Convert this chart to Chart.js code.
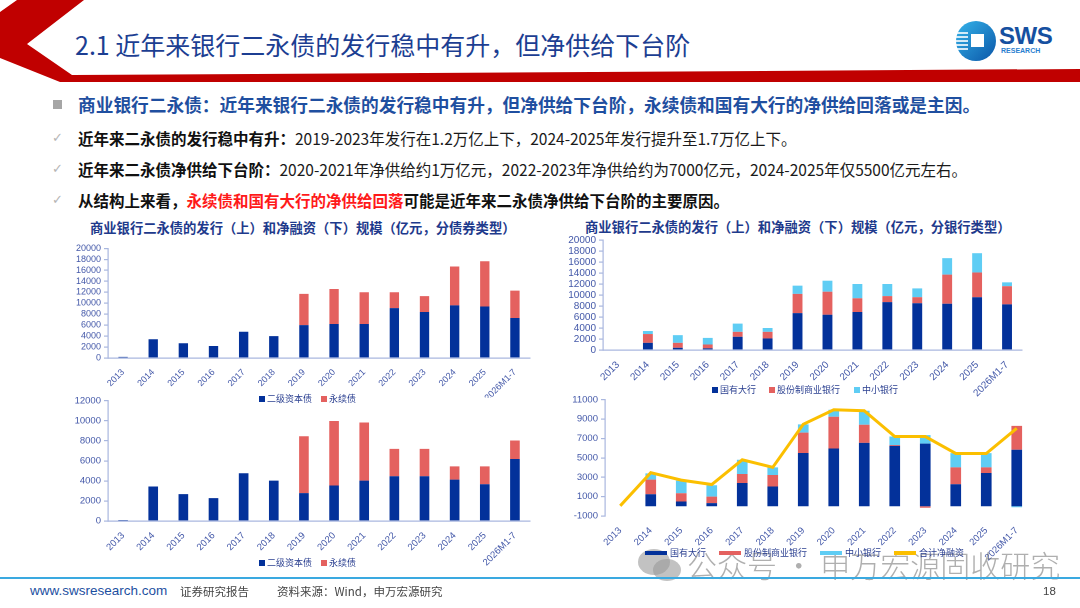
<!DOCTYPE html>
<html><head><meta charset="utf-8">
<script src="https://cdn.jsdelivr.net/npm/chart.js@4.4.0/dist/chart.umd.min.js"></script>
<style>
html,body{margin:0;padding:0;}
body{width:1080px;height:608px;overflow:hidden;position:relative;background:#fff;font-family:"Noto Sans CJK SC","Noto Sans",sans-serif;}
.abs{position:absolute;white-space:nowrap;}
canvas{position:absolute;}
.title{left:75px;top:29px;font-size:25px;line-height:30px;color:#1c3e92;font-weight:400;}
.l1{left:78px;top:92px;font-size:17.7px;line-height:24px;color:#1f4fa0;font-weight:700;}
.ln{left:78px;font-size:15.5px;line-height:22px;color:#1a1a1a;}
.ln b{font-weight:700;color:#111;}
.ln .red{color:#ff1a1a;font-weight:700;}
.chk{left:52px;font-size:13px;color:#b5b5b5;font-family:"DejaVu Sans",sans-serif;}
.ctitle{font-size:13.3px;font-weight:700;color:#1e3a8c;line-height:18px;}
.lg{font-size:9px;color:#2a3f90;line-height:12px;display:flex;align-items:center;}
.sw{display:inline-block;width:6px;height:6px;margin-right:2px;}
.lm{display:inline-block;width:22px;height:4px;margin-right:3px;}
.foot{font-size:11.5px;color:#444;line-height:16px;}
</style></head><body>

<svg class="abs" style="left:0;top:0" width="1080" height="90">
  <polygon points="17,0 84,0 27,44 72,75 1080,69 1080,82 60,82 0,58 0,12" fill="#c00000"/>
</svg>
<div class="abs title">2.1 近年来银行二永债的发行稳中有升，但净供给下台阶</div>

<svg class="abs" style="left:950px;top:18px" width="52" height="48" viewBox="950 18 52 48">
  <defs><linearGradient id="g" x1="0" y1="0" x2="1" y2="1"><stop offset="0" stop-color="#35b4ea"/><stop offset="1" stop-color="#0b56a8"/></linearGradient></defs>
  <circle cx="976" cy="41" r="20" fill="url(#g)"/>
  <rect x="971" y="34" width="13" height="13" fill="#fff"/>
  <g stroke="#fff" stroke-width="1.6">
    <line x1="956" y1="33" x2="968" y2="33"/><line x1="956" y1="37" x2="968" y2="37"/>
    <line x1="956" y1="41" x2="968" y2="41"/><line x1="956" y1="45" x2="968" y2="45"/>
    <line x1="957" y1="49" x2="968" y2="49"/>
  </g>
</svg>
<div class="abs" style="left:999px;top:22px;font-family:'Liberation Sans',Arial,sans-serif;font-weight:700;font-size:24px;line-height:28px;color:#1650a0;letter-spacing:-0.5px;">SWS</div>
<div class="abs" style="left:1001px;top:47px;font-family:'Liberation Sans',Arial,sans-serif;font-weight:700;font-size:7px;line-height:8px;color:#2b7fd0;">RESEARCH</div>

<div class="abs" style="left:53px;top:100px;width:9px;height:9px;background:#a6a6a6;"></div>
<div class="abs l1">商业银行二永债：近年来银行二永债的发行稳中有升，但净供给下台阶，永续债和国有大行的净供给回落或是主因。</div>
<div class="abs chk" style="top:130px">✓</div>
<div class="abs ln" style="top:127px"><b>近年来二永债的发行稳中有升：</b>2019-2023年发行在1.2万亿上下，2024-2025年发行提升至1.7万亿上下。</div>
<div class="abs chk" style="top:161px">✓</div>
<div class="abs ln" style="top:158px"><b>近年来二永债净供给下台阶：</b>2020-2021年净供给约1万亿元，2022-2023年净供给约为7000亿元，2024-2025年仅5500亿元左右。</div>
<div class="abs chk" style="top:192px">✓</div>
<div class="abs ln" style="top:189px"><b>从结构上来看，</b><span class="red">永续债和国有大行的净供给回落</span><b>可能是近年来二永债净供给下台阶的主要原因。</b></div>

<div class="abs ctitle" style="left:90px;top:219px;">商业银行二永债的发行（上）和净融资（下）规模（亿元，分债券类型）</div>
<div class="abs ctitle" style="left:585px;top:218px;">商业银行二永债的发行（上）和净融资（下）规模（亿元，分银行类型）</div>

<canvas id="c1" width="478" height="158" style="left:60px;top:240px"></canvas>
<canvas id="c2" width="478" height="178" style="left:60px;top:392px"></canvas>
<canvas id="c3" width="475" height="167" style="left:555px;top:231px"></canvas>
<canvas id="c4" width="483" height="179" style="left:557px;top:391px"></canvas>

<div class="abs lg" style="left:259px;top:393px;"><span class="sw" style="background:#03319a"></span>二级资本债<span style="width:9px;display:inline-block"></span><span class="sw" style="background:#e4615f"></span>永续债</div>
<div class="abs lg" style="left:259px;top:557px;"><span class="sw" style="background:#03319a"></span>二级资本债<span style="width:9px;display:inline-block"></span><span class="sw" style="background:#e4615f"></span>永续债</div>
<div class="abs lg" style="left:712px;top:384px;"><span class="sw" style="background:#03319a"></span>国有大行<span style="width:13px;display:inline-block"></span><span class="sw" style="background:#e4615f"></span>股份制商业银行<span style="width:14px;display:inline-block"></span><span class="sw" style="background:#5fcdf4"></span>中小银行</div>

<svg class="abs" style="left:636px;top:545px" width="50" height="40">
  <ellipse cx="18" cy="17" rx="16" ry="13" fill="#9a9a9a" opacity="0.6"/>
  <ellipse cx="31" cy="25" rx="14" ry="11" fill="#9a9a9a" opacity="0.6"/>
</svg>
<div class="abs" style="left:687px;top:544px;font-size:30px;line-height:40px;color:rgba(110,110,110,0.55);font-weight:300;">公众号 · 申万宏源固收研究</div>
<div class="abs lg" style="left:645px;top:547px;"><span class="lm" style="background:#03319a"></span>国有大行<span style="width:13px;display:inline-block"></span><span class="lm" style="background:#e4615f"></span>股份制商业银行<span style="width:13px;display:inline-block"></span><span class="lm" style="background:#5fcdf4"></span>中小银行<span style="width:13px;display:inline-block"></span><span class="lm" style="background:#fbbf00"></span>合计净融资</div>

<div class="abs" style="left:0;top:577px;width:1080px;height:2px;background:#3aa9e0;"></div>
<div class="abs" style="left:30px;top:583px;font-family:'Liberation Sans',Arial,sans-serif;font-size:13.5px;line-height:16px;color:#1d4f9f;">www.swsresearch.com</div>
<div class="abs foot" style="left:180px;top:583px;">证券研究报告</div>
<div class="abs foot" style="left:277px;top:583px;">资料来源：Wind，申万宏源研究</div>
<div class="abs foot" style="left:1043px;top:583px;font-family:'Liberation Sans',Arial,sans-serif;">18</div>

<script>
// ---- data ----
const years = ['2013','2014','2015','2016','2017','2018','2019','2020','2021','2022','2023','2024','2025','2026M1-7'];
// issuance by bond type (亿元)
const issueTier2 = [200,3430,2700,2200,4800,4000,6000,6200,6200,9100,8400,9600,9400,7300];
const issuePerp  = [0,0,0,0,0,0,5700,6400,5800,2900,2900,7100,8250,5000];
// net financing by bond type
const netTier2 = [100,3440,2680,2280,4760,4030,2780,3540,4030,4460,4460,4130,3670,6180];
const netPerp  = [0,0,0,0,0,0,5680,6440,5790,2740,2740,1320,1780,1850];
// issuance by bank type
const issueBig   = [0,1300,400,300,2400,2100,6700,6400,6900,8700,8500,8400,9600,8300];
const issueJoint = [0,1600,900,700,900,1200,3500,4200,2500,1100,1100,5300,4500,3300];
const issueSmall = [0,550,1400,1200,1500,700,1500,2000,2600,2200,1600,3000,3500,700];
// net financing by bank type
const netBig   = [0,1250,500,330,2400,2040,5500,5960,6540,6230,6470,2280,3440,5830];
const netJoint = [0,1500,850,670,930,1190,2100,3280,1880,100,-150,1740,580,2470];
const netSmall = [0,650,1300,1170,1470,790,860,720,1440,870,880,1470,1470,-100];
const netTotal = [50,3470,2700,2250,4800,4020,8460,9960,9860,7200,7200,5450,5450,8050];
// axis ranges
const issueAxis = {min:0, max:20000, step:2000};
const netTypeAxis = {min:0, max:12000, step:2000};
const netBankAxis = {min:-1000, max:11000, step:2000};

const AXIS = '#a9b7df', TICK = '#4257a8';
const BLUE = '#03319a', RED = '#e4615f', CYAN = '#5fcdf4', YEL = '#fbbf00';
const TF = 'Liberation Sans, Arial, sans-serif';

function bar(label, data, color, bp){
  return {label, data, backgroundColor:color, borderWidth:0, barPercentage:bp, categoryPercentage:1, stack:'s', order:1};
}
function build(id, datasets, ax, o){
  return new Chart(document.getElementById(id), {
    type:'bar',
    data:{labels:years, datasets},
    options:{
      responsive:false, animation:false, devicePixelRatio:2,
      layout:{padding:{top:8,right:8,left:0,bottom:0}},
      plugins:{legend:{display:false}, tooltip:{enabled:false}},
      scales:{
        x:{stacked:true, grid:{display:false},
           border:{display:!o.zero, color:AXIS, width:1.2},
           ticks:{color:TICK, font:{family:TF, size:o.fs}, minRotation:45, maxRotation:45, autoSkip:false, padding:1},
           afterFit:s=>{s.height=o.xH;}},
        y:{stacked:true, min:ax.min, max:ax.max,
           border:{display:true, color:AXIS, width:1.2},
           grid:{drawOnChartArea:!!o.zero, drawTicks:true, tickLength:4, tickColor:AXIS, lineWidth:1.2,
                 color:c=>(o.zero && c.tick && c.tick.value===0) ? AXIS : 'rgba(0,0,0,0)'},
           ticks:{stepSize:ax.step, autoSkip:false, color:TICK, font:{family:TF, size:o.fs}, padding:3,
                  callback:v=>String(v)},
           afterFit:s=>{s.width=48;}}
      }
    }
  });
}

build('c1', [bar('二级资本债', issueTier2, BLUE, 0.31), bar('永续债', issuePerp, RED, 0.31)], issueAxis, {fs:9, xH:40});
build('c2', [bar('二级资本债', netTier2, BLUE, 0.32), bar('永续债', netPerp, RED, 0.32)], netTypeAxis, {fs:9.5, xH:49});
build('c3', [bar('国有大行', issueBig, BLUE, 0.33), bar('股份制商业银行', issueJoint, RED, 0.33), bar('中小银行', issueSmall, CYAN, 0.33)], issueAxis, {fs:10, xH:48});
build('c4', [
  bar('国有大行', netBig, BLUE, 0.35), bar('股份制商业银行', netJoint, RED, 0.35), bar('中小银行', netSmall, CYAN, 0.35),
  {type:'line', label:'合计净融资', data:netTotal, borderColor:YEL, backgroundColor:YEL, borderWidth:3, pointRadius:0, tension:0, fill:false, stack:'line', order:0}
], netBankAxis, {fs:9.5, xH:54, zero:true});
</script>
</body></html>
